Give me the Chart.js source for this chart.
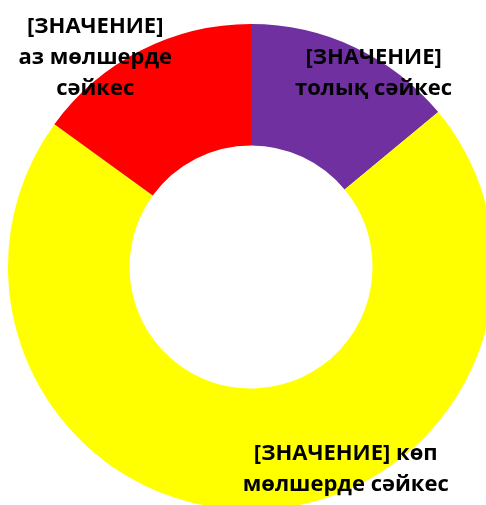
<!DOCTYPE html>
<html>
<head>
<meta charset="utf-8">
<script src="https://cdn.jsdelivr.net/npm/chart.js@4/dist/chart.umd.min.js"></script>
<style>
  html, body { margin: 0; padding: 0; background: #fff; overflow: hidden; }
  #wrap { width: 494px; height: 510px; }
</style>
</head>
<body>
<div id="wrap"><canvas id="chart"></canvas></div>
<script>
var categories = ['толық сәйкес', 'көп мөлшерде сәйкес', 'аз мөлшерде сәйкес'];
var values = [14, 71, 15];
var colors = ['#7030A0', '#FFFF00', '#FF0000'];
var labelLines = [
  ['[ЗНАЧЕНИЕ]', 'толық сәйкес'],
  ['[ЗНАЧЕНИЕ] көп', 'мөлшерде сәйкес'],
  ['[ЗНАЧЕНИЕ]', 'аз мөлшерде', 'сәйкес']
];

// label offset from each arc's center point
var labelOffsets = [[45, -29], [89, 20], [-73, -47]];

var sliceLabels = {
  id: 'sliceLabels',
  afterDatasetsDraw: function(chart) {
    var ctx = chart.ctx;
    var meta = chart.getDatasetMeta(0);
    ctx.save();
    ctx.fillStyle = '#000';
    ctx.font = 'bold 22px "Open Sans"';
    ctx.textAlign = 'center';
    ctx.textBaseline = 'middle';
    var lh = 31;
    meta.data.forEach(function(arc, i) {
      var p = arc.getCenterPoint();
      var lines = labelLines[i];
      var x = p.x + labelOffsets[i][0];
      var y = p.y + labelOffsets[i][1] - (lines.length - 1) * lh / 2;
      lines.forEach(function(line, j) {
        ctx.fillText(line, x, y + j * lh);
      });
    });
    ctx.restore();
  }
};

new Chart(document.getElementById('chart'), {
  type: 'doughnut',
  data: {
    labels: categories,
    datasets: [{
      data: values,
      backgroundColor: colors,
      borderWidth: 0
    }]
  },
  options: {
    responsive: true,
    maintainAspectRatio: false,
    animation: false,
    cutout: '50%',
    layout: { padding: { left: 8, top: 24, right: 0, bottom: 0 } },
    plugins: {
      legend: { display: false },
      tooltip: { enabled: false }
    }
  },
  plugins: [sliceLabels]
});
</script>
</body>
</html>
